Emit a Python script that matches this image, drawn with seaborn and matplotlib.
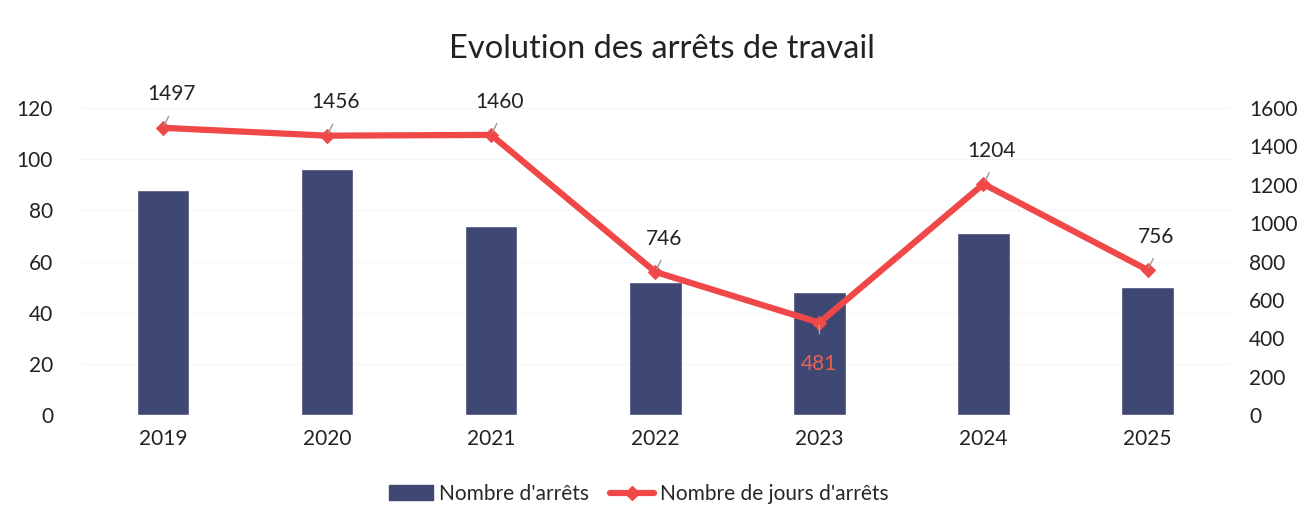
import seaborn as sns
import matplotlib.pyplot as plt
import matplotlib.lines as mlines
import matplotlib.patches as mpatches
import numpy as np
import pandas as pd

years = ["2019", "2020", "2021", "2022", "2023", "2024", "2025"]
nb_arrets = [88, 96, 74, 52, 48, 71, 50]
nb_jours = [1497, 1456, 1460, 746, 481, 1204, 756]

BAR_COLOR = "#3e4873"
LINE_COLOR = "#f04848"
TEXT_COLOR = "#222222"
FONT_SIZE = 15

sns.set_theme(style="white")
plt.rcParams["font.family"] = ["Lato", "DejaVu Sans"]

df = pd.DataFrame({"year": years, "arrets": nb_arrets, "jours": nb_jours})
df["pos"] = np.arange(len(df))

fig = plt.figure(figsize=(13.04, 5.27), dpi=100)
ax = fig.add_axes([0.062, 0.2125, 0.881, 0.5825])

sns.barplot(data=df, x="year", y="arrets", color=BAR_COLOR, width=0.32,
            saturation=1, ax=ax)
ax.set_ylim(0, 120)
ax.set_yticks(range(0, 121, 20))
ax.set_xlim(-0.5, len(years) - 0.5)
ax.grid(axis="y", color="#f5f5f5", linewidth=0.8)
ax.set_axisbelow(True)

ax2 = ax.twinx()
sns.lineplot(data=df, x="pos", y="jours", color=LINE_COLOR, linewidth=4.5,
             marker="D", markersize=7, markeredgecolor=LINE_COLOR, ax=ax2)
ax2.set_ylim(0, 1600)
ax2.set_yticks(range(0, 1601, 200))

for a in (ax, ax2):
    for s in a.spines.values():
        s.set_visible(False)
    a.set_xlabel("")
    a.set_ylabel("")
    a.tick_params(axis="both", length=0, labelsize=FONT_SIZE, colors=TEXT_COLOR)
ax.tick_params(axis="y", pad=20)
ax.tick_params(axis="x", pad=10)
ax2.tick_params(axis="y", pad=14)

for p, v in zip(df["pos"], df["jours"]):
    if v < 600:
        ax2.annotate(str(v), (p, v), xytext=(0, -30), textcoords="offset points",
                     ha="center", va="center", fontsize=FONT_SIZE, color="#e8604f")
        ax2.annotate("", (p, v), xytext=(0, -10), textcoords="offset points",
                     arrowprops=dict(arrowstyle="-", color="#aaaaaa", lw=1))
    else:
        ax2.annotate(str(v), (p, v), xytext=(6, 24), textcoords="offset points",
                     ha="center", va="center", fontsize=FONT_SIZE, color=TEXT_COLOR)
        ax2.annotate("", (p, v), xytext=(5, 10), textcoords="offset points",
                     arrowprops=dict(arrowstyle="-", color="#999999", lw=1))

fig.suptitle("Evolution des arrêts de travail", x=0.508, y=0.935, fontsize=23.5,
             color=TEXT_COLOR)

handles = [
    mpatches.Patch(color=BAR_COLOR, label="Nombre d'arrêts"),
    mlines.Line2D([], [], color=LINE_COLOR, linewidth=4.5, marker="D",
                  markersize=7, label="Nombre de jours d'arrêts"),
]
fig.legend(handles=handles, loc="center", bbox_to_anchor=(0.49, 0.063), ncol=2,
           frameon=False, fontsize=FONT_SIZE, handlelength=2.1, columnspacing=1.0,
           handletextpad=0.3)

fig.savefig("out.png", dpi=100)
